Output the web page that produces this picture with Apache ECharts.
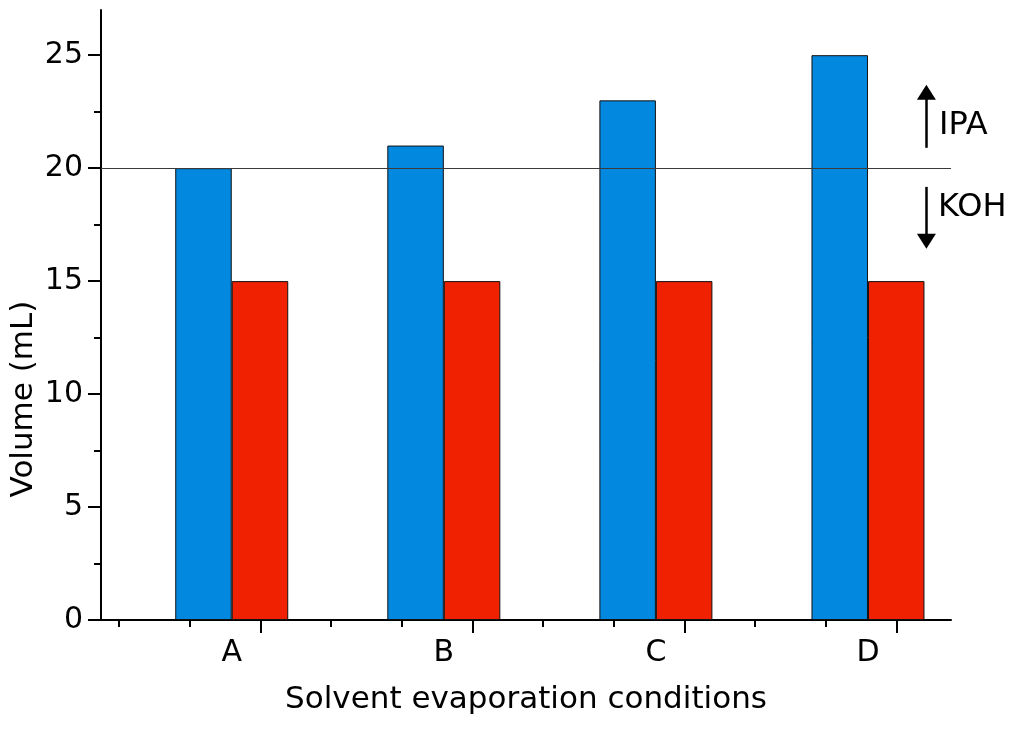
<!DOCTYPE html>
<html>
<head>
<meta charset="utf-8"/>
<title>Volume by solvent evaporation conditions</title>
<style>
    html, body { margin: 0; padding: 0; background: #fff; }
    #chart { width: 1024px; height: 729px; }
</style>
<script src="https://cdn.jsdelivr.net/npm/echarts@6/dist/echarts.min.js"></script>
</head>
<body>
<div id="chart"></div>
<script>
    // data
    var categories = ['A', 'B', 'C', 'D'];
    var ipaVolume = [20, 21, 23, 25];   // blue bars
    var kohVolume = [15, 15, 15, 15];   // red bars
    var baseVolume = 20;                // horizontal reference line
    var yTicks = [0, 5, 10, 15, 20, 25];
    var yMinorTicks = [2.5, 7.5, 12.5, 17.5, 22.5];

    // x is a value axis: category i sits at i+1
    var catPos = categories.map(function (c, i) { return i + 1; });
    var majorTicks = catPos.map(function (v) { return v + 0.135; });
    var minorTicks = [];
    majorTicks.forEach(function (v) { minorTicks.push(v - 2 / 3, v - 1 / 3); });

    function pairs(vals) {
        return vals.map(function (v, i) { return [catPos[i], v]; });
    }

    var font = 'DejaVu Sans';
    var black = '#000';
    var arrowX = 4.2755;

    var chart = echarts.init(document.getElementById('chart'));
    var option = {
        animation: false,
        backgroundColor: '#fff',
        textStyle: { fontFamily: font },
        grid: { left: 101, right: 73, top: 10, bottom: 109, containLabel: false, outerBoundsMode: 'none' },
        xAxis: [
            {
                type: 'value', min: 0.3835, max: 4.3915,
                name: 'Solvent evaporation conditions',
                nameLocation: 'middle', nameGap: 64, nameMoveOverlap: false,
                nameTextStyle: { fontSize: 31, color: black, fontFamily: font },
                axisLine: { show: true, lineStyle: { color: black, width: 2 } },
                axisTick: { show: true, customValues: majorTicks, length: 13, lineStyle: { color: black, width: 2 } },
                axisLabel: {
                    customValues: catPos, margin: 18, fontSize: 30, color: black, fontFamily: font,
                    formatter: function (v) { return categories[Math.round(v) - 1]; }
                },
                splitLine: { show: false }
            },
            {
                type: 'value', min: 0.3835, max: 4.3915, position: 'bottom',
                axisLine: { show: false },
                axisTick: { show: true, customValues: minorTicks, length: 7, lineStyle: { color: black, width: 2 } },
                axisLabel: { show: false },
                splitLine: { show: false }
            }
        ],
        yAxis: [
            {
                type: 'value', min: 0, max: 27,
                name: 'Volume (mL)',
                nameLocation: 'middle', nameGap: 62, nameMoveOverlap: false,
                nameTextStyle: { fontSize: 31, color: black, fontFamily: font, padding: [0, 168, 0, 0] },
                axisLine: { show: true, lineStyle: { color: black, width: 2 } },
                axisTick: { show: true, customValues: yTicks, length: 13, lineStyle: { color: black, width: 2 } },
                axisLabel: { customValues: yTicks, margin: 18, fontSize: 30, color: black, fontFamily: font },
                splitLine: { show: false }
            },
            {
                type: 'value', min: 0, max: 27, position: 'left',
                axisLine: { show: false },
                axisTick: { show: true, customValues: yMinorTicks, length: 7, lineStyle: { color: black, width: 2 } },
                axisLabel: { show: false },
                splitLine: { show: false }
            }
        ],
        series: [
            {
                name: 'IPA', type: 'bar', xAxisIndex: 0, yAxisIndex: 0,
                barWidth: 56.5, barGap: '0%',
                itemStyle: { color: '#0388DF', borderColor: '#111', borderWidth: 1 },
                data: pairs(ipaVolume)
            },
            {
                name: 'KOH', type: 'bar', xAxisIndex: 0, yAxisIndex: 0,
                barWidth: 56.5, barGap: '0%',
                itemStyle: { color: '#EF2100', borderColor: '#111', borderWidth: 1 },
                data: pairs(kohVolume)
            },
            {
                // reference line at 20 mL, drawn over the bars
                name: 'base', type: 'line', xAxisIndex: 0, yAxisIndex: 0,
                data: [], z: 5,
                markLine: {
                    silent: true, symbol: 'none',
                    label: { show: false },
                    lineStyle: { color: '#3a3a3a', width: 1.2, type: 'solid' },
                    data: [{ yAxis: baseVolume }]
                }
            },
            {
                // arrows: up = more IPA, down = more KOH
                name: 'arrows', type: 'line', xAxisIndex: 0, yAxisIndex: 0,
                data: [], z: 5,
                markLine: {
                    silent: true,
                    symbol: ['none', 'triangle'], symbolSize: [19, 15],
                    label: { show: false },
                    lineStyle: { color: black, width: 2.5, type: 'solid' },
                    data: [
                        [{ coord: [arrowX, baseVolume + 0.9] }, { coord: [arrowX, baseVolume + 3.36] }],
                        [{ coord: [arrowX, baseVolume - 0.83] }, { coord: [arrowX, baseVolume - 3.24] }]
                    ]
                }
            }
        ],
        graphic: [
            { type: 'text', left: 939, top: 110, style: { text: 'IPA', fontSize: 32, fontFamily: font, fill: black } },
            { type: 'text', left: 938, top: 192, style: { text: 'KOH', fontSize: 32, fontFamily: font, fill: black } }
        ]
    };
    chart.setOption(option);
</script>
</body>
</html>
